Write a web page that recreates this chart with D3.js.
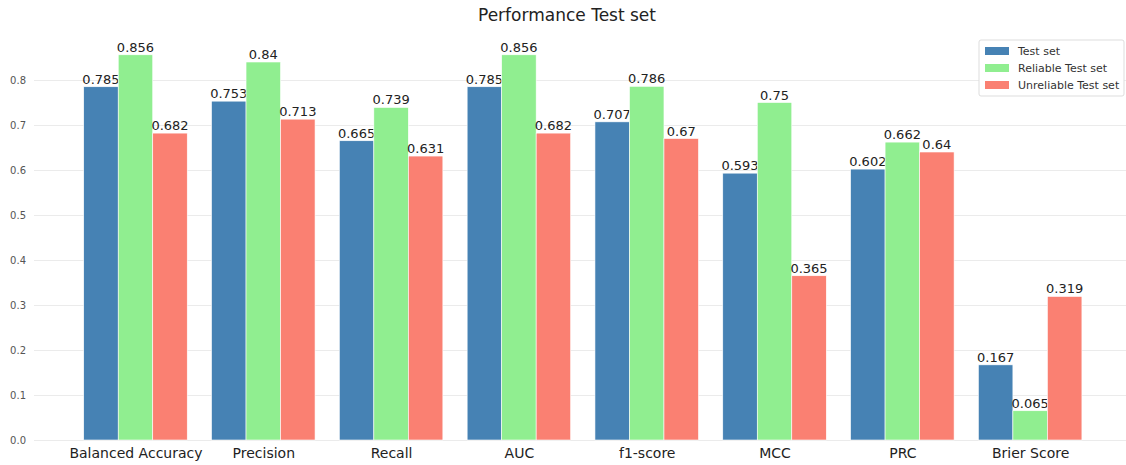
<!DOCTYPE html>
<meta charset="utf-8">
<style>
    body { margin: 0; background: #fff; }
    text { font-family: "DejaVu Sans", sans-serif; }
    .grid line { stroke: #ebebeb; stroke-width: 1px; }
    .axis--y path, .axis--y line { display: none; }
    .axis--y text { fill: #555; font-size: 10px; }
    .axis--x path, .axis--x line { display: none; }
    .axis--x text { fill: #222; font-size: 14px; }
    .val { font-size: 13px; fill: #222; }
</style>

<body>
    <script src="https://d3js.org/d3.v7.min.js"></script>
    <script>
        var categories = ["Balanced Accuracy", "Precision", "Recall", "AUC", "f1-score", "MCC", "PRC", "Brier Score"];
        var seriesNames = ["Test set", "Reliable Test set", "Unreliable Test set"];
        var testSet = [0.785, 0.753, 0.665, 0.785, 0.707, 0.593, 0.602, 0.167];
        var reliableSet = [0.856, 0.84, 0.739, 0.856, 0.786, 0.75, 0.662, 0.065];
        var unreliableSet = [0.682, 0.713, 0.631, 0.682, 0.67, 0.365, 0.64, 0.319];
        var yTicks = [0.0, 0.1, 0.2, 0.3, 0.4, 0.5, 0.6, 0.7, 0.8];
        var colors = ["#4682b4", "#90ee90", "#fa8072"];

        var width = 1126,
            height = 465;

        var svg = d3.select("body").append("svg")
            .attr("width", width)
            .attr("height", height);

        var barW = 0.27;
        var series = [testSet, reliableSet, unreliableSet];

        var x = d3.scaleLinear().domain([-0.794, 7.75]).range([34, 1126]);
        var y = d3.scaleLinear().domain([0, 0.8]).range([440, 80]);

        // grid
        svg.append("g")
            .attr("class", "grid")
            .selectAll("line")
            .data(yTicks)
            .enter().append("line")
            .attr("x1", x.range()[0])
            .attr("x2", x.range()[1])
            .attr("y1", function(d) { return y(d) + 0.5; })
            .attr("y2", function(d) { return y(d) + 0.5; });

        svg.append("g")
            .attr("class", "axis axis--y")
            .attr("transform", "translate(" + 34 + ",0)")
            .call(d3.axisLeft(y).tickValues(yTicks).tickFormat(d3.format(".1f")).tickSize(0).tickPadding(8));

        var xBand = d3.scaleOrdinal().domain(categories).range(categories.map(function(c, i) { return x(i); }));
        svg.append("g")
            .attr("class", "axis axis--x")
            .attr("transform", "translate(0,440)")
            .call(d3.axisBottom(xBand).tickSize(0).tickPadding(8));

        var groups = svg.selectAll(".series")
            .data(series)
            .enter().append("g")
            .attr("class", "series")
            .attr("fill", function(d, s) { return colors[s]; });

        groups.selectAll("rect")
            .data(function(d, s) { return d.map(function(v, i) { return { v: v, i: i, s: s }; }); })
            .enter().append("rect")
            .attr("x", function(d) { return x(d.i + (d.s - 1.5) * barW); })
            .attr("width", function(d) { return x(d.i + (d.s - 0.5) * barW) - x(d.i + (d.s - 1.5) * barW); })
            .attr("y", function(d) { return y(d.v); })
            .attr("height", function(d) { return y(0) - y(d.v); })
            .attr("stroke", "#fff")
            .attr("stroke-width", 0.6);

        groups.selectAll(".val")
            .data(function(d, s) { return d.map(function(v, i) { return { v: v, i: i, s: s }; }); })
            .enter().append("text")
            .attr("class", "val")
            .attr("text-anchor", "middle")
            .attr("x", function(d) { return x(d.i + (d.s - 1) * barW); })
            .attr("y", function(d) { return y(d.v) - 3; })
            .text(function(d) { return d.v; });

        svg.append("text")
            .attr("x", 567)
            .attr("y", 21)
            .attr("text-anchor", "middle")
            .style("font-size", "17px")
            .style("fill", "#222")
            .text("Performance Test set");

        // legend
        var legend = svg.append("g").attr("transform", "translate(979,40)");
        legend.append("rect")
            .attr("width", 145)
            .attr("height", 56)
            .attr("rx", 2)
            .attr("fill", "#fff")
            .attr("stroke", "#ddd");
        var item = legend.selectAll(".item")
            .data(seriesNames)
            .enter().append("g")
            .attr("transform", function(d, i) { return "translate(6," + (7 + i * 17) + ")"; });
        item.append("rect")
            .attr("width", 24)
            .attr("height", 8)
            .attr("fill", function(d, i) { return colors[i]; });
        item.append("text")
            .attr("x", 33)
            .attr("y", 8)
            .style("font-size", "11px")
            .style("fill", "#333")
            .text(function(d) { return d; });
    </script>
</body>
